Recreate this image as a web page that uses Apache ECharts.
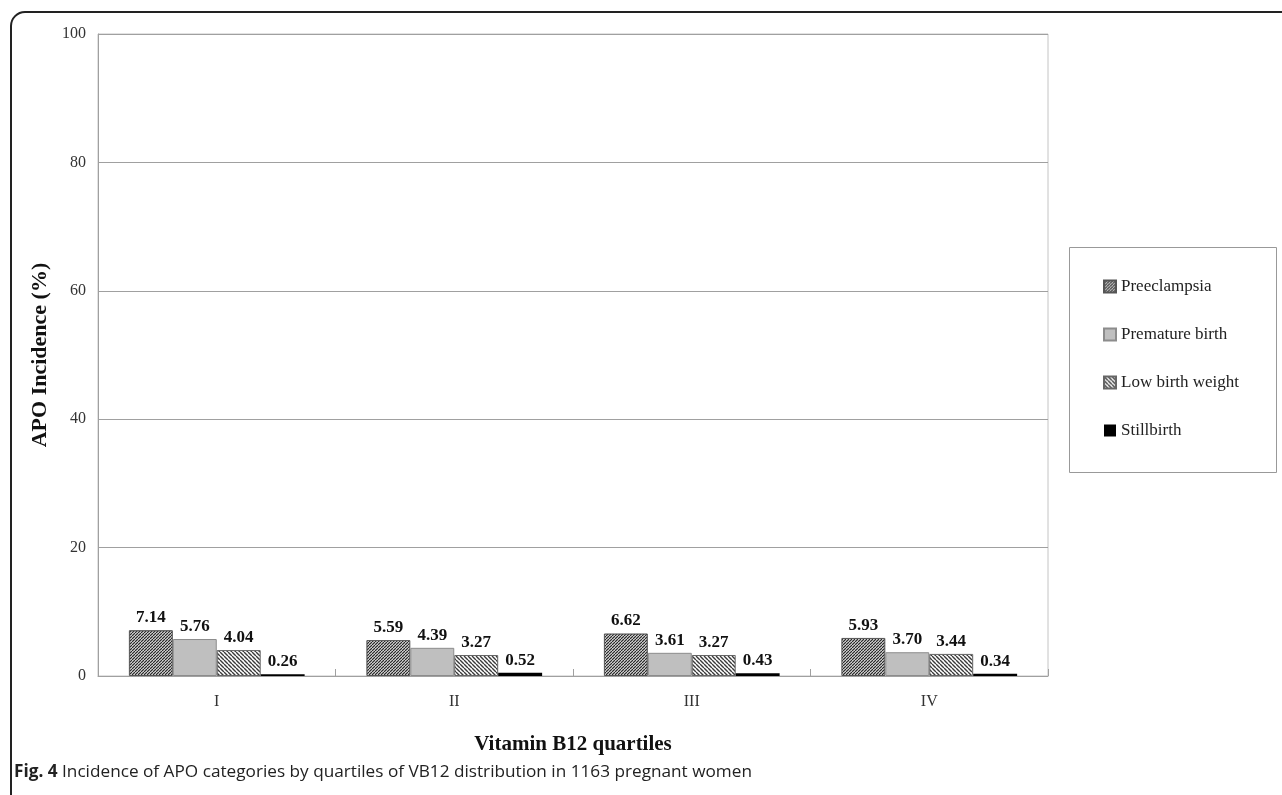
<!DOCTYPE html>
<html><head><meta charset="utf-8">
<script src="https://cdn.jsdelivr.net/npm/echarts@6/dist/echarts.min.js"></script>
<style>html,body{margin:0;padding:0;background:#fff}#c{width:1282px;height:795px}</style>
</head><body><div id="c"></div>
<script>
const categories = ['I', 'II', 'III', 'IV'];
const preeclampsia = [7.14, 5.59, 6.62, 5.93];
const prematureBirth = [5.76, 4.39, 3.61, 3.70];
const lowBirthWeight = [4.04, 3.27, 3.27, 3.44];
const stillbirth = [0.26, 0.52, 0.43, 0.34];
const yTicks = [0, 20, 40, 60, 80, 100];

function hatch(dir, fg, bg, size, lw) {
  const c = document.createElement('canvas');
  c.width = size; c.height = size;
  const g = c.getContext('2d');
  g.fillStyle = bg; g.fillRect(0, 0, size, size);
  g.strokeStyle = fg; g.lineWidth = lw;
  g.beginPath();
  for (let k = -1; k <= 1; k++) {
    if (dir > 0) { g.moveTo(k * size, size); g.lineTo(k * size + size, 0); }
    else { g.moveTo(k * size, 0); g.lineTo(k * size + size, size); }
  }
  g.stroke();
  return c;
}
const patPre = { image: hatch(1, '#2a2a2a', '#ffffff', 3, 1.3), repeat: 'repeat' };
const patLbw = { image: hatch(-1, '#3a3a3a', '#ffffff', 4, 1.4), repeat: 'repeat' };

const serif = '"Liberation Serif", "Times New Roman", serif';
const sans = '"Open Sans", "Noto Sans", sans-serif';
const label = { show: true, position: 'top', distance: 4, fontFamily: serif, fontWeight: 'bold', fontSize: 17, color: '#111',
  formatter: p => p.value.toFixed(2) };

const chart = echarts.init(document.getElementById('c'));
chart.setOption({
  animation: false,
  backgroundColor: '#fff',
  textStyle: { fontFamily: serif },
  grid: { left: 98, right: 234, top: 34, bottom: 119, show: true, borderColor: '#c4c4c4', borderWidth: 1 },
  title: {
    left: 14, top: 764, padding: 0,
    text: '{b|Fig. 4} Incidence of APO categories by quartiles of VB12 distribution in 1163 pregnant women',
    textStyle: { fontFamily: sans, fontSize: 17.2, fontWeight: 'normal', color: '#222',
      rich: { b: { fontFamily: sans, fontSize: 17.2, fontWeight: 'bold', color: '#222' } } }
  },
  legend: {
    orient: 'vertical', left: 1103, top: 278, padding: 0, itemGap: 31, itemWidth: 12, itemHeight: 12, icon: 'rect',
    textStyle: { fontFamily: serif, fontSize: 17, color: '#222' },
    data: ['Preeclampsia', 'Premature birth', 'Low birth weight', 'Stillbirth']
  },
  graphic: [
    { type: 'rect', left: 1067, top: 245, shape: { width: 207, height: 225 }, style: { fill: 'none', stroke: '#999', lineWidth: 1 }, silent: true },
    { type: 'rect', shape: { x: 11, y: 12, width: 1400, height: 900, r: 14 }, style: { fill: 'none', stroke: '#222', lineWidth: 2 }, silent: true }
  ],
  xAxis: {
    type: 'category', data: categories,
    name: 'Vitamin B12 quartiles', nameLocation: 'middle', nameGap: 58,
    nameTextStyle: { fontFamily: serif, fontWeight: 'bold', fontSize: 21, color: '#111' },
    axisLine: { lineStyle: { color: '#a0a0a0' } },
    axisTick: { show: true, inside: true, length: 7, lineStyle: { color: '#a0a0a0' } },
    axisLabel: { fontFamily: serif, fontSize: 16, color: '#333', margin: 18 }
  },
  yAxis: {
    type: 'value', min: 0, max: 100, interval: 20,
    name: 'APO Incidence (%)', nameLocation: 'middle', nameGap: 42,
    nameTextStyle: { fontFamily: serif, fontWeight: 'bold', fontSize: 22, color: '#111' },
    axisLine: { show: true, lineStyle: { color: '#a0a0a0' } },
    axisTick: { show: false },
    axisLabel: { fontFamily: serif, fontSize: 16, color: '#333', margin: 12,
      formatter: v => yTicks.includes(v) ? String(v) : '' },
    splitLine: { lineStyle: { color: '#a0a0a0' } }
  },
  series: [
    { name: 'Preeclampsia', type: 'bar', data: preeclampsia, barGap: '0%', barCategoryGap: '26%',
      itemStyle: { color: patPre, borderColor: '#555', borderWidth: 1 }, label },
    { name: 'Premature birth', type: 'bar', data: prematureBirth,
      itemStyle: { color: '#bfbfbf', borderColor: '#8c8c8c', borderWidth: 1 }, label },
    { name: 'Low birth weight', type: 'bar', data: lowBirthWeight,
      itemStyle: { color: patLbw, borderColor: '#666', borderWidth: 1 }, label },
    { name: 'Stillbirth', type: 'bar', data: stillbirth,
      itemStyle: { color: '#000', borderColor: '#000', borderWidth: 0 }, label }
  ]
});
</script></body></html>
